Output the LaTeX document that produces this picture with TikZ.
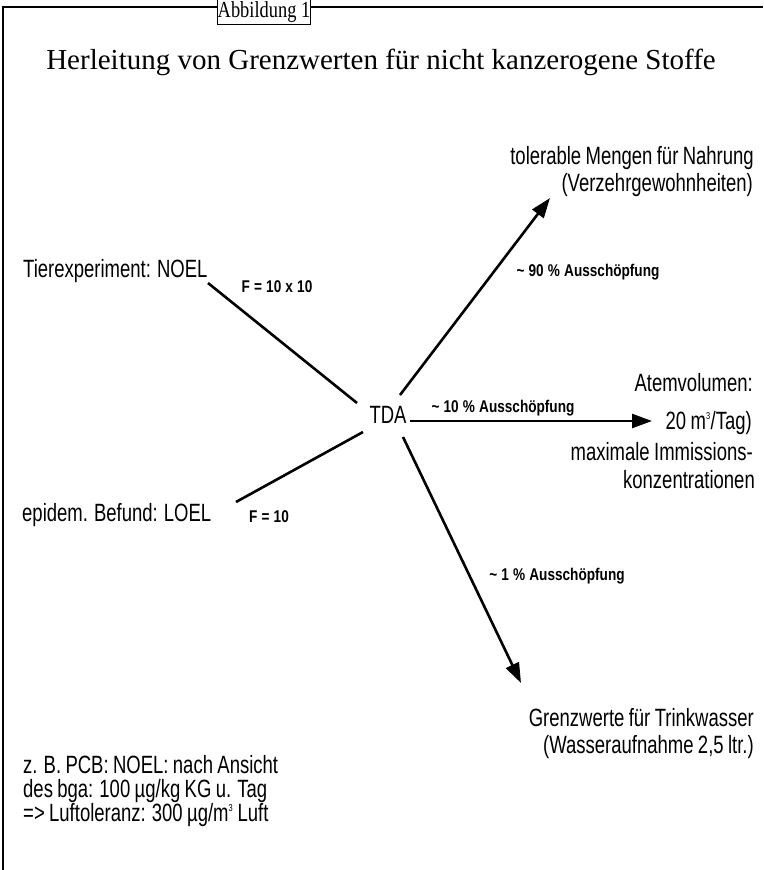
\documentclass[tikz,border=0pt]{standalone}
\usepackage{fontspec}
\setmainfont{Liberation Serif}
\newfontfamily\cond[FakeStretch=0.74,WordSpace=0.85]{Liberation Sans}
\newfontfamily\condbold[FakeStretch=0.8,WordSpace=1.1]{Liberation Sans Bold}
\newfontfamily\condserif[FakeStretch=0.8]{Liberation Serif}
\usetikzlibrary{arrows.meta}
\begin{document}
\begin{tikzpicture}[x=1pt,y=-1pt,
  lbl/.style={font=\cond\fontsize{25}{27}\selectfont, inner sep=0pt},
  pct/.style={font=\condbold\fontsize{17}{19}\selectfont, inner sep=0pt},
  conn/.style={line width=2.6pt},
  arr/.style={line width=2.6pt, -{Triangle[length=20pt,width=14pt]}},
  frame/.style={line width=2pt}]
\useasboundingbox (0,0) rectangle (763,870);
% frame
\draw[frame] (3,870) -- (3,7) -- (763,7);
\node[draw, fill=white, line width=1.2pt, minimum width=92pt, minimum height=25pt, inner sep=0pt,
  font=\condserif\fontsize{23}{24}\selectfont] (cap) at (264,12) {Abbildung 1};
% title
\node[inner sep=0pt, font=\fontsize{29}{32}\selectfont] (title) at (381,62)
  {Herleitung von Grenzwerten für nicht kanzerogene Stoffe};
% left nodes
\node[lbl, anchor=base west] (noel) at (23,277) {Tierexperiment: NOEL};
\node[lbl, anchor=base west] (loel) at (22,521) {epidem. Befund: LOEL};
\node[lbl] (tda) at (388,415) {TDA};
% right nodes
\node[lbl, anchor=base east] (nahr1) at (754,164) {tolerable Mengen für Nahrung};
\node[lbl, anchor=base east] (nahr2) at (753,191) {(Verzehrgewohnheiten)};
\node[lbl, anchor=base east] (atem1) at (753,391) {Atemvolumen:};
\node[lbl, anchor=base east] (atem2) at (752,429) {20 m\textsuperscript{\fontsize{10}{10}\selectfont 3}/Tag)};
\node[lbl, anchor=base east] (atem3) at (753,460) {maximale Immissions-};
\node[lbl, anchor=base east] (atem4) at (755,488) {konzentrationen};
\node[lbl, anchor=base east] (wass1) at (754,726) {Grenzwerte für Trinkwasser};
\node[lbl, anchor=base east] (wass2) at (754,753) {(Wasseraufnahme 2,5 ltr.)};
% bottom note
\node[lbl, anchor=base west] (note1) at (23,773) {z. B. PCB: NOEL: nach Ansicht};
\node[lbl, anchor=base west] (note2) at (23,797) {des bga: 100 µg/kg KG u. Tag};
\node[lbl, anchor=base west] (note3) at (23,821) {=> Luftoleranz: 300 µg/m\textsuperscript{\fontsize{10}{10}\selectfont 3} Luft};
% line ends
\coordinate (noelEnd) at (208,283);
\coordinate (tdaNW) at (357,403);
\coordinate (tdaSW) at (363,432);
\coordinate (loelEnd) at (236,502);
\coordinate (tdaNE) at (400,395);
\coordinate (nahrTip) at (550,198);
\coordinate (tdaE) at (410,421);
\coordinate (atemTip) at (652,421);
\coordinate (tdaSE) at (403,437);
\coordinate (wassTip) at (521,683);
% connectors
\draw[conn] (noelEnd) -- (tdaNW);
\draw[conn] (loelEnd) -- (tdaSW);
\draw[arr] (tdaNE) -- (nahrTip);
\draw[arr] (tdaE) -- (atemTip);
\draw[arr] (tdaSE) -- (wassTip);
% factor labels
\node[pct] (f1) at (277,287) {F = 10 x 10};
\node[pct] (f2) at (269,517) {F = 10};
\node[pct] (p90) at (588,272) {\textasciitilde{} 90 \% Ausschöpfung};
\node[pct] (p10) at (503,408) {\textasciitilde{} 10 \% Ausschöpfung};
\node[pct] (p1) at (557,576) {\textasciitilde{} 1 \% Ausschöpfung};
\end{tikzpicture}
\end{document}
